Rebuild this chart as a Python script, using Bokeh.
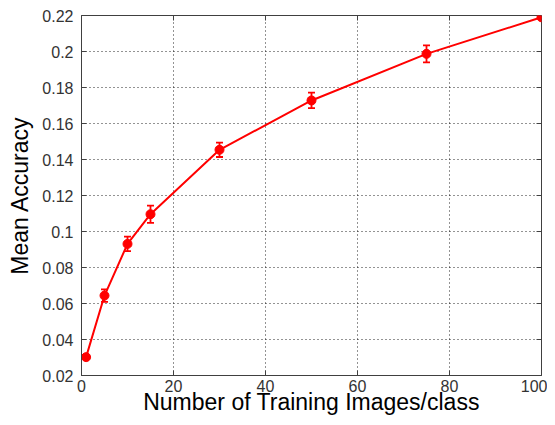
import math
from bokeh.plotting import figure
from bokeh.models import (FixedTicker, CustomJSTickFormatter, Range1d,
                          Whisker, TeeHead, ColumnDataSource)
from bokeh.embed import file_html
from bokeh.resources import INLINE

# ---- data ----
images_per_class = [1, 5, 10, 15, 30, 50, 75, 100]
mean_accuracy = [0.0302, 0.0644, 0.0931, 0.1096, 0.1454, 0.1728, 0.1987, 0.2190]
accuracy_err = [0.0010, 0.0035, 0.0040, 0.0048, 0.0040, 0.0043, 0.0047, 0.0]
x_ticks = [0, 20, 40, 60, 80, 100]
y_ticks = [0.02, 0.04, 0.06, 0.08, 0.10, 0.12, 0.14, 0.16, 0.18, 0.20, 0.22]
x_label = "Number of Training Images/class"
y_label = "Mean Accuracy"

FONT = "Liberation Sans"
AX = "#404040"
RED = "#ff0000"
TITLE_SIZE = "23px"

x_min, x_max = x_ticks[0], x_ticks[-1]
y_min, y_max = y_ticks[0], y_ticks[-1]

src = ColumnDataSource(dict(
    x=images_per_class,
    y=mean_accuracy,
    lower=[m - e for m, e in zip(mean_accuracy, accuracy_err)],
    upper=[m + e for m, e in zip(mean_accuracy, accuracy_err)],
))

p = figure(width=547, height=417, output_backend="svg", toolbar_location=None,
           x_range=Range1d(x_min, x_max), y_range=Range1d(y_min, y_max),
           min_border_left=81, min_border_right=6, min_border_top=15, min_border_bottom=42,
           x_axis_label=x_label, y_axis_label=y_label)
p.background_fill_color = "white"
p.border_fill_color = "white"
p.outline_line_color = AX
p.outline_line_width = 1

for ax in (p.xaxis[0], p.yaxis[0]):
    ax.axis_line_color = AX
    ax.major_tick_line_color = AX
    ax.minor_tick_line_color = None
    ax.major_tick_in = 5
    ax.major_tick_out = 0
    ax.major_label_text_font = FONT
    ax.major_label_text_font_size = "16px"
    ax.major_label_text_color = "#333333"
    ax.axis_label_text_font = FONT
    ax.axis_label_text_font_size = TITLE_SIZE
    ax.axis_label_text_font_style = "normal"
    ax.axis_label_text_color = "#000000"

xa = p.xaxis[0]
ya = p.yaxis[0]
xa.ticker = FixedTicker(ticks=x_ticks)
ya.ticker = FixedTicker(ticks=y_ticks)
ya.formatter = CustomJSTickFormatter(code="return String(+tick.toFixed(2));")
xa.major_label_standoff = 4
xa.axis_label_standoff = -6
ya.major_label_standoff = 8
ya.axis_label_standoff = 6

for g in (p.xgrid[0], p.ygrid[0]):
    g.grid_line_color = "#000000"
    g.grid_line_dash = "1 3"
    g.grid_line_width = 1
    g.grid_line_alpha = 0.85
p.xgrid[0].ticker = FixedTicker(ticks=x_ticks)
p.ygrid[0].ticker = FixedTicker(ticks=y_ticks)

# inward ticks on the top and right edges of the box (half of each dash is clipped)
p.scatter(x=[x_max] * len(y_ticks), y=y_ticks, marker="dash", size=10,
          line_color=AX, line_width=1)
p.scatter(x=x_ticks, y=[y_max] * len(x_ticks), marker="dash", size=10, angle=math.pi / 2,
          line_color=AX, line_width=1)

p.line("x", "y", source=src, line_color=RED, line_width=2)
p.scatter("x", "y", source=src, marker="circle", size=9, fill_color=RED, line_color=RED)
p.add_layout(Whisker(source=src, base="x", lower="lower", upper="upper",
                     line_color=RED, line_width=1.8,
                     upper_head=TeeHead(size=7, line_color=RED, line_width=1.8),
                     lower_head=TeeHead(size=7, line_color=RED, line_width=1.8)))

open("out.html", "w").write(file_html(p, INLINE))
